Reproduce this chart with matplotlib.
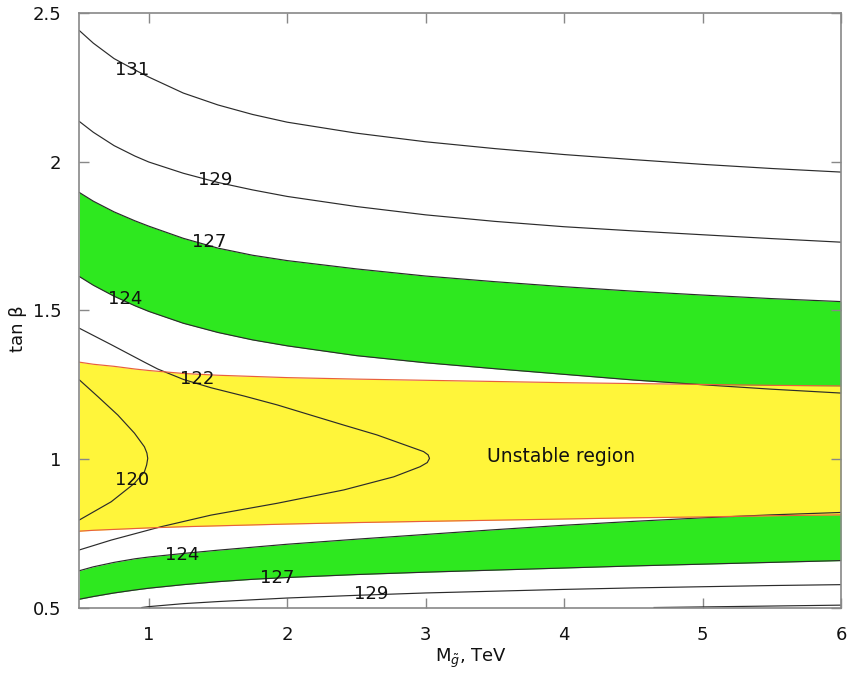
import matplotlib
matplotlib.use('Agg')
import matplotlib.pyplot as plt
import numpy as np

# gluino mass grid, TeV
mg = [0.5, 0.6, 0.75, 0.9, 1.0, 1.25, 1.5, 1.75, 2.0, 2.5, 3.0, 3.5, 4.0, 4.5, 5.0, 5.5, 6.0]

# contours of m_h (GeV), upper branches
c131_up = [2.442, 2.40, 2.348, 2.31, 2.286, 2.232, 2.192, 2.16, 2.134, 2.097, 2.068, 2.045,
           2.025, 2.008, 1.992, 1.978, 1.966]
c129_up = [2.136, 2.10, 2.055, 2.02, 2.0, 1.962, 1.931, 1.906, 1.884, 1.85, 1.822, 1.80,
           1.782, 1.768, 1.755, 1.742, 1.73]
c127_up = [1.897, 1.868, 1.832, 1.802, 1.784, 1.743, 1.71, 1.686, 1.668, 1.64, 1.616, 1.597,
           1.58, 1.565, 1.552, 1.54, 1.53]
c124_up = [1.614, 1.585, 1.548, 1.516, 1.497, 1.457, 1.426, 1.401, 1.381, 1.348, 1.324, 1.304,
           1.285, 1.266, 1.25, 1.235, 1.222]

# lower branches
c124_lo = [0.624, 0.637, 0.652, 0.664, 0.67, 0.682, 0.693, 0.703, 0.713, 0.73, 0.746, 0.762,
           0.777, 0.79, 0.802, 0.812, 0.82]
c127_lo = [0.528, 0.537, 0.549, 0.559, 0.565, 0.577, 0.587, 0.595, 0.601, 0.611, 0.619, 0.626,
           0.633, 0.64, 0.646, 0.652, 0.658]
mg129_lo = [0.95, 1.0, 1.25, 1.5, 1.75, 2.0, 2.5, 3.0, 3.5, 4.0, 4.5, 5.0, 5.5, 6.0]
c129_lo = [0.50, 0.503, 0.513, 0.52, 0.526, 0.532, 0.541, 0.549, 0.555, 0.561, 0.566, 0.57,
           0.574, 0.577]
mg131_lo = [4.65, 5.0, 5.5, 6.0]
c131_lo = [0.50, 0.502, 0.505, 0.508]

# closed contours 122 and 120 (tan beta, M_gluino)
tb122 = [1.44, 1.385, 1.326, 1.303, 1.268, 1.24, 1.212, 1.182, 1.148, 1.114, 1.081, 1.041,
         1.025, 1.014, 1.002, 0.988, 0.974, 0.94, 0.896, 0.851, 0.811, 0.772, 0.727, 0.694]
mg122 = [0.5, 0.729, 0.969, 1.065, 1.25, 1.449, 1.689, 1.929, 2.169, 2.41, 2.649, 2.889,
         2.985, 3.018, 3.028, 3.012, 2.96, 2.77, 2.41, 1.929, 1.449, 1.089, 0.729, 0.5]
tb120 = [1.266, 1.21, 1.148, 1.087, 1.041, 1.02, 1.002, 0.98, 0.957, 0.918, 0.856, 0.795]
mg120 = [0.5, 0.633, 0.777, 0.897, 0.969, 0.987, 0.993, 0.985, 0.969, 0.897, 0.729, 0.5]

# unstable region borders
unst_up = [1.326, 1.319, 1.312, 1.303, 1.298, 1.288, 1.282, 1.278, 1.274, 1.269, 1.265, 1.261,
           1.257, 1.254, 1.251, 1.248, 1.246]
unst_lo = [0.757, 0.760, 0.763, 0.766, 0.768, 0.772, 0.775, 0.778, 0.781, 0.786, 0.790, 0.794,
           0.798, 0.802, 0.805, 0.809, 0.812]

# contour labels
lab_txt = ['131', '129', '127', '124', '122', '120', '124', '127', '129']
lab_x = [0.88, 1.48, 1.44, 0.83, 1.35, 0.88, 1.24, 1.93, 2.61]
lab_y = [2.31, 1.94, 1.73, 1.537, 1.269, 0.929, 0.678, 0.601, 0.544]

green = '#2ee81f'
yellow = '#fff53a'
lc = '#2b2b2b'
lw = 0.85

fig = plt.figure(figsize=(8.51, 6.73), dpi=100)
ax = fig.add_axes([0.0934, 0.0973, 0.8948, 0.8827])

ax.fill_between(mg, c124_up, c127_up, color=green, lw=0)
ax.fill_between(mg, c127_lo, c124_lo, color=green, lw=0)
ax.fill_between(mg, unst_lo, unst_up, color=yellow, lw=0)

for yy in [c131_up, c129_up, c127_up, c124_up, c124_lo, c127_lo]:
    ax.plot(mg, yy, color=lc, lw=lw, solid_joinstyle='round')
ax.plot(mg129_lo, c129_lo, color=lc, lw=lw)
ax.plot(mg131_lo, c131_lo, color=lc, lw=lw)
ax.plot(mg122, tb122, color=lc, lw=lw, solid_joinstyle='round')
ax.plot(mg120, tb120, color=lc, lw=lw, solid_joinstyle='round')
ax.plot(mg, unst_up, color='#e8603c', lw=lw)
ax.plot(mg, unst_lo, color='#e8603c', lw=lw)

for t, x, y in zip(lab_txt, lab_x, lab_y):
    ax.text(x, y, t, fontsize=13, ha='center', va='center', color='#111111')

ax.text(3.44, 1.01, 'Unstable region', fontsize=13.5, ha='left', va='center', color='#111111')

ax.set_xlim(0.5, 6)
ax.set_ylim(0.5, 2.5)
ax.set_xticks([1, 2, 3, 4, 5, 6])
ax.set_xticklabels(['1', '2', '3', '4', '5', '6'])
ax.set_yticks([0.5, 1, 1.5, 2, 2.5])
ax.set_yticklabels(['0.5', '1', '1.5', '2', '2.5'])
ax.tick_params(direction='in', length=7, width=1, color='#888888', top=True, right=True,
               labelsize=13, pad=13, labelcolor='#111111')
for s in ax.spines.values():
    s.set_color('#888888')
    s.set_linewidth(1.2)

ax.set_xlabel(r'M$_{\tilde{g}}$, TeV', fontsize=13, color='#111111')
ax.set_ylabel('tan β', fontsize=13, color='#111111')
ax.xaxis.set_label_coords(0.514, -0.066)
ax.yaxis.set_label_coords(-0.069, 0.469)

fig.savefig('out.png', dpi=100)
